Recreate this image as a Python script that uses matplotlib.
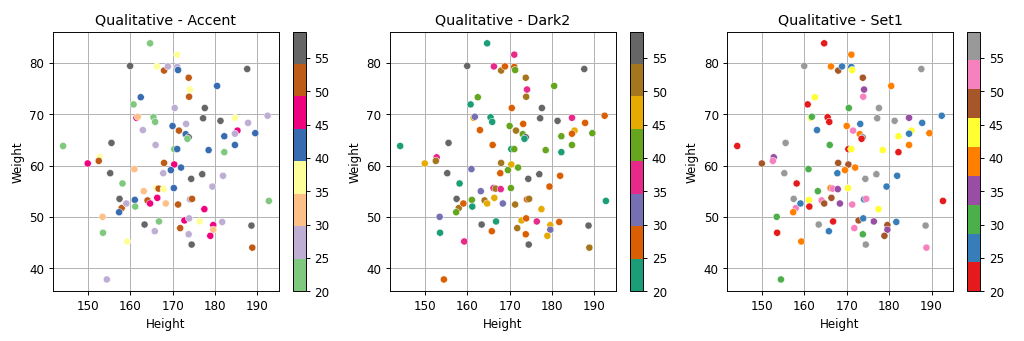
import matplotlib
matplotlib.use('Agg')
import matplotlib.pyplot as plt

# height, weight, age
height = [164.7, 171.1, 160.0, 166.3, 168.0, 168.9, 171.1, 171.3, 187.6, 173.8,
          174.1, 173.9, 180.5, 162.5, 160.8, 170.5, 177.6, 161.5, 161.8, 165.5,
          165.9, 177.2, 181.3, 184.7, 187.8, 192.4, 163.0, 170.0, 173.2, 171.5,
          173.1, 173.8, 173.5, 185.3, 184.7, 182.2, 189.5, 144.2, 155.6, 166.0,
          170.4, 171.1, 178.5, 184.7, 182.2, 152.8, 152.6, 150.0, 168.0, 170.4,
          169.6, 172.0, 161.0, 155.3, 167.8, 174.4, 177.0, 181.9, 158.2, 179.4,
          170.3, 163.2, 166.2, 166.7, 167.9, 157.5, 158.0, 157.4, 159.1, 161.1,
          161.2, 164.1, 164.7, 166.4, 168.4, 171.3, 174.1, 174.6, 177.5, 153.5,
          153.6, 163.4, 166.8, 165.8, 172.8, 173.9, 171.8, 173.8, 174.5, 176.4,
          179.6, 179.6, 178.9, 181.7, 188.6, 188.8, 192.7, 159.3, 154.5]
weight = [83.8, 81.6, 79.4, 79.3, 78.5, 79.3, 79.2, 78.6, 78.8, 77.1,
          74.8, 73.4, 75.5, 73.3, 71.9, 71.2, 71.2, 69.3, 69.5, 69.4,
          68.5, 69.2, 68.7, 69.3, 68.3, 69.7, 66.9, 67.7, 68.1, 66.8,
          66.1, 65.5, 65.2, 66.8, 66.2, 65.7, 66.3, 63.8, 64.4, 64.0,
          63.2, 63.2, 63.0, 64.0, 62.6, 61.6, 60.9, 60.4, 60.5, 60.2,
          59.1, 59.6, 59.3, 58.5, 58.5, 57.4, 58.3, 58.0, 56.5, 55.9,
          55.6, 55.0, 55.6, 55.5, 55.4, 53.5, 51.7, 50.9, 52.6, 53.3,
          52.0, 53.2, 52.6, 53.7, 52.6, 52.4, 53.4, 53.5, 51.5, 50.0,
          46.9, 48.5, 49.1, 47.2, 49.3, 49.7, 47.8, 46.6, 44.6, 49.1,
          48.4, 47.5, 46.3, 49.0, 48.3, 44.0, 53.1, 45.2, 37.8]
age = [22, 38, 57, 38, 50, 27, 27, 43, 57, 50,
       36, 52, 41, 43, 22, 29, 57, 45, 31, 22,
       22, 57, 57, 36, 27, 27, 27, 40, 27, 52,
       41, 57, 22, 45, 27, 43, 41, 22, 57, 29,
       22, 43, 43, 41, 22, 36, 52, 48, 50, 48,
       40, 41, 31, 57, 27, 57, 57, 27, 22, 27,
       43, 31, 38, 52, 36, 57, 52, 41, 27, 43,
       22, 52, 48, 48, 34, 52, 27, 52, 45, 31,
       22, 57, 22, 27, 48, 27, 52, 29, 57, 36,
       48, 34, 48, 27, 57, 52, 22, 38, 29]

cmaps = ['Accent', 'Dark2', 'Set1']

fig, axes = plt.subplots(1, 3, figsize=(12, 4))
for ax, cm in zip(axes, cmaps):
    sc = ax.scatter(height, weight, c=age, cmap=plt.get_cmap(cm), vmin=20, vmax=59,
                    s=36, edgecolors='w', linewidths=0.4)
    ax.set_title('Qualitative - ' + cm)
    ax.set_xlabel('Height')
    ax.set_ylabel('Weight')
    ax.grid(True)
    ax.set_axisbelow(True)
    fig.colorbar(sc, ax=ax)

plt.tight_layout()
plt.savefig('out.png', dpi=1024 / 12)
